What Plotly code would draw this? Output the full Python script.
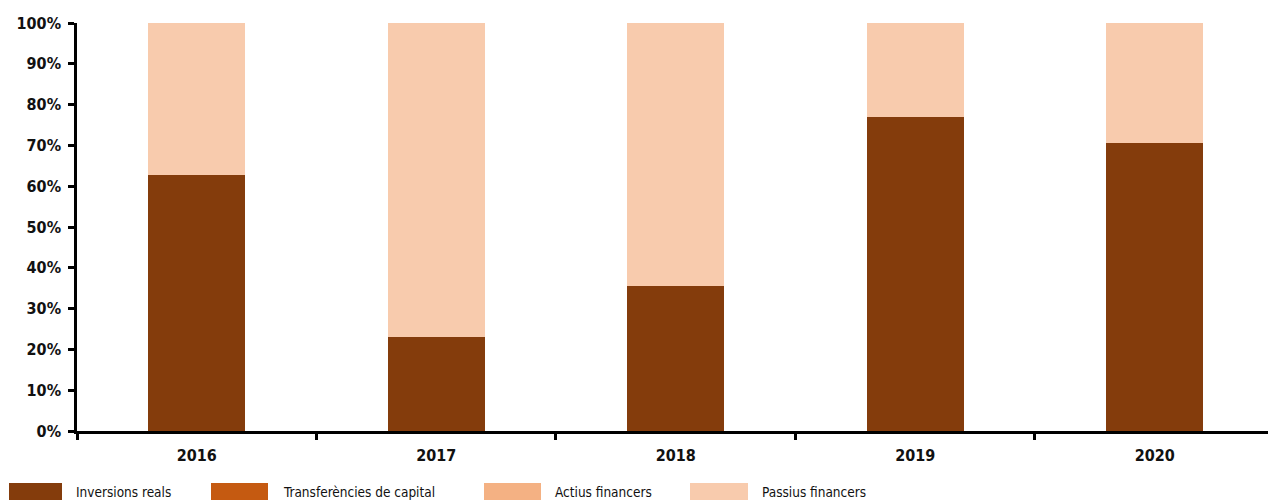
import plotly.graph_objects as go

years = ["2016", "2017", "2018", "2019", "2020"]
inversions_reals = [62.7, 23.0, 35.5, 77.0, 70.6]
transferencies_capital = [0.0, 0.0, 0.0, 0.0, 0.0]
actius_financers = [0.0, 0.0, 0.0, 0.0, 0.0]
passius_financers = [37.3, 77.0, 64.5, 23.0, 29.4]

series_names = ["Inversions reals", "Transferències de capital",
                "Actius financers", "Passius financers"]
series_values = [inversions_reals, transferencies_capital,
                 actius_financers, passius_financers]
colors = ["#843C0C", "#C55A11", "#F4B183", "#F8CBAD"]

W, H = 1268, 500
ML, MT, MB = 77, 23, 69
FONT = "DejaVu Sans Condensed, Liberation Sans, Arial, sans-serif"

fig = go.Figure()
for name, vals, col in zip(series_names, series_values, colors):
    fig.add_trace(go.Bar(
        x=years, y=[v / 100 for v in vals], name=name,
        marker=dict(color=col, line=dict(width=0)),
        showlegend=False,
    ))

# Legend drawn as swatches + labels along the bottom edge
plot_h = H - MT - MB
def py(pix):
    return (H - MB - pix) / plot_h

legend_x = [(9, 62, 76), (211, 268, 283), (484, 541, 555), (690, 748, 762)]
for (x0, x1, tx), name, col in zip(legend_x, series_names, colors):
    fig.add_shape(type="rect", xref="paper", yref="paper",
                  x0=(x0 - ML) / (W - ML), x1=(x1 - ML) / (W - ML),
                  y0=py(502), y1=py(483),
                  fillcolor=col, line=dict(width=0))
    fig.add_annotation(xref="paper", yref="paper",
                       x=(tx - ML) / (W - ML), y=py(492),
                       text=name, showarrow=False, xanchor="left", yanchor="middle",
                       xshift=-2,
                       font=dict(family=FONT, size=13.5, color="#111"))

fig.update_layout(
    barmode="stack",
    bargap=0.595,
    width=W, height=H,
    margin=dict(l=ML, r=0, t=MT, b=MB),
    plot_bgcolor="white", paper_bgcolor="white",
    xaxis=dict(
        type="category", range=[-0.5, 4.473],
        showline=True, linecolor="black", linewidth=2.5,
        ticks="outside", ticklen=6, tickwidth=2.5, tickcolor="black",
        tickson="boundaries", ticklabelstandoff=8,
        tickfont=dict(family=FONT, size=16, color="#111", weight="bold"),
        showgrid=False,
    ),
    yaxis=dict(
        range=[0, 1], dtick=0.1, tickformat=".0%",
        showline=True, linecolor="black", linewidth=2.5,
        ticks="outside", ticklen=6, tickwidth=2.5, tickcolor="black",
        ticklabelstandoff=4,
        tickfont=dict(family=FONT, size=16, color="#111", weight="bold"),
        showgrid=False, zeroline=False,
    ),
)

fig.write_html("out.html")
